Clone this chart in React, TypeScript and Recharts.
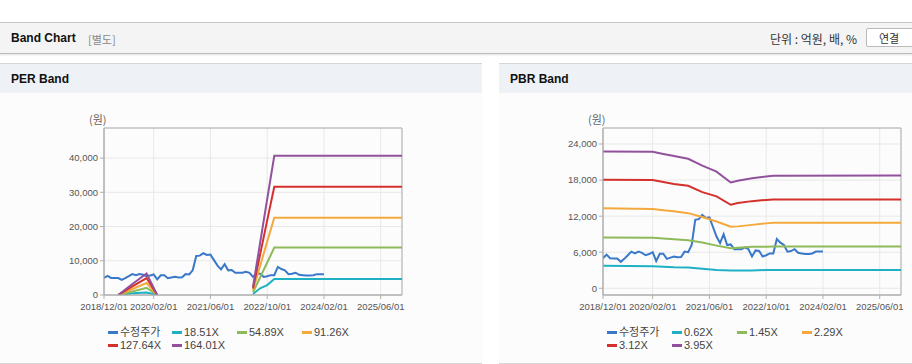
import { LineChart, Line, XAxis, YAxis, CartesianGrid, ReferenceArea } from 'recharts';

// x axis is months since 2018/12/01
const xTickMonths = [0, 14, 30, 46, 62, 78];
const xTickLabels = ['2018/12/01', '2020/02/01', '2021/06/01', '2022/10/01', '2024/02/01', '2025/06/01'];

// 수정주가, monthly from 2018/12
const price = [
  5000, 5600, 5000, 4950, 4950, 4400, 4900, 5500, 6100, 5800, 6100, 5900, 5500, 5700, 6000, 4550,
  5750, 5750, 4900, 5100, 5300, 5150, 5200, 6100, 6000, 7200, 11400, 11500, 12200, 11700, 11800, 10200,
  8600, 7500, 9000, 7200, 7300, 6500, 6500, 6500, 6800, 6500, 5300, 6300, 6200, 5300, 5500, 5800,
  5800, 8200, 7600, 7200, 6100, 6200, 6500, 5900, 5800, 5700, 5700, 5800, 6100, 6100, 6100,
];

// PER band breakpoints (null = no band)
const perMonths = [4, 8, 12, 15, 30, 42, 44, 46, 48, 84];
const per1851 = [0, 500, 750, 0, null, 300, 1950, 2900, 4650, 4680];
const per5489 = [0, 1050, 2100, 0, null, 800, 5100, 9500, 13850, 13850];
const per9126 = [0, 1750, 3500, 0, null, 1400, 8500, 15600, 22600, 22600];
const per12764 = [0, 2500, 4950, 0, null, 1900, 11800, 21800, 31650, 31650];
const per16401 = [0, 3200, 6300, 0, null, 2400, 15200, 28000, 40700, 40700];
const perLabels = ['18.51X', '54.89X', '91.26X', '127.64X', '164.01X'];
const perTicks = [0, 10000, 20000, 30000, 40000];

// PBR band breakpoints
const pbrMonths = [0, 14, 17, 20, 24, 28, 32, 36, 38, 42, 46, 48, 84];
const pbr062 = [3770, 3650, 3600, 3500, 3450, 3250, 3050, 2940, 2940, 2950, 3050, 3050, 3050];
const pbr145 = [8440, 8420, 8300, 8150, 8000, 7600, 7100, 6650, 6750, 6900, 6930, 6940, 6940];
const pbr229 = [13300, 13200, 13000, 12800, 12500, 11850, 11100, 10250, 10300, 10550, 10800, 10900, 10900];
const pbr312 = [18050, 18000, 17700, 17350, 17050, 16000, 15300, 13900, 14200, 14500, 14700, 14780, 14780];
const pbr395 = [22770, 22700, 22350, 22000, 21550, 20400, 19400, 17600, 17900, 18300, 18600, 18720, 18750];
const pbrLabels = ['0.62X', '1.45X', '2.29X', '3.12X', '3.95X'];
const pbrTicks = [0, 6000, 12000, 18000, 24000];

const PRICE_COLOR = '#3a78c9';
const BAND_COLORS = ['#1fb0c4', '#8fba5a', '#f3a93c', '#d4302c', '#92519d'];
const AXIS = '#b0b0b0';
const TICK_FONT = { fill: '#555', fontSize: 9.5, fontFamily: 'Liberation Sans, Arial' };

type BandProps = {
  left: number;
  width: number;
  marginRight: number;
  months: number[];
  bands: (number | null)[][];
  labels: string[];
  ticks: number[];
  domain: [number, number];
  title: string;
  panelWidth: number;
  legendX: number[];
};

function BandPanel({ left, width, marginRight, months, bands, labels, ticks, domain, title, panelWidth, legendX }: BandProps) {
  const priceData = price.map((v, i) => ({ m: i, v }));
  const legendItems = [{ name: '수정주가', color: PRICE_COLOR }, ...labels.map((l, i) => ({ name: l, color: BAND_COLORS[i] }))];
  return (
    <div style={{ position: 'absolute', left, top: 63, width: panelWidth, height: 299, borderTop: '1px solid #d6d6d6', borderBottom: '1px solid #d6d6d6', background: '#fcfcfc' }}>
      <div style={{ height: 29, background: '#eef2f7', fontFamily: 'Liberation Sans, Arial', fontWeight: 'bold', fontSize: 12, lineHeight: '30px', paddingLeft: 11, color: '#111' }}>
        {title}
      </div>
      <div style={{ position: 'absolute', left: 89, top: 47, fontSize: 11, color: '#666', fontFamily: 'Noto Sans CJK KR' }}>(원)</div>
      <div style={{ position: 'absolute', left: 0, top: 29 }}>
        <LineChart width={width} height={270} margin={{ top: 35, right: marginRight, left: 54, bottom: 48 }}>
          <CartesianGrid stroke="#e8e8e8" />
          <XAxis
            type="number"
            dataKey="m"
            domain={[0, 84]}
            ticks={xTickMonths}
            interval={0}
            allowDataOverflow
            tickFormatter={(v: number) => xTickLabels[xTickMonths.indexOf(v)]}
            tick={TICK_FONT}
            stroke={AXIS}
            tickSize={4}
            tickMargin={4}
            height={20}
          />
          <YAxis
            type="number"
            domain={domain}
            ticks={ticks}
            allowDataOverflow
            interval={0}
            tickFormatter={(v: number) => v.toLocaleString('en-US')}
            tick={TICK_FONT}
            stroke={AXIS}
            tickSize={4}
            width={50}
          />
          <ReferenceArea x1={0} x2={84} y1={domain[0]} y2={domain[1]} fill="none" stroke={AXIS} />
          <Line data={priceData} dataKey="v" stroke={PRICE_COLOR} strokeWidth={2} dot={false} isAnimationActive={false} type="linear" />
          {bands.map((vals, i) => (
            <Line
              key={labels[i]}
              data={months.map((m, j) => ({ m, v: vals[j] }))}
              dataKey="v"
              stroke={BAND_COLORS[i]}
              strokeWidth={2}
              dot={false}
              connectNulls={false}
              isAnimationActive={false}
              type="linear"
            />
          ))}
        </LineChart>
      </div>
      {legendItems.map((it, i) => (
        <div
          key={it.name}
          style={{
            position: 'absolute',
            left: legendX[i % 4] - left,
            top: 261 + Math.floor(i / 4) * 13,
            display: 'flex',
            alignItems: 'center',
            fontSize: 11,
            color: '#444',
            fontFamily: 'Liberation Sans, Arial, Noto Sans CJK KR',
            whiteSpace: 'nowrap',
            lineHeight: '14px',
          }}
        >
          <span style={{ display: 'inline-block', width: 10, height: 3, background: it.color, marginRight: 2 }} />
          {it.name}
        </div>
      ))}
    </div>
  );
}

export default function App() {
  return (
    <div style={{ position: 'absolute', left: 0, top: 0, width: 912, height: 364, overflow: 'hidden', background: '#fff', fontFamily: 'Liberation Sans, Arial' }}>
      <div
        style={{
          position: 'absolute', left: 0, top: 22, width: 912, height: 30,
          background: '#f4f4f4', borderTop: '1px solid #c8c8c8', borderBottom: '1px solid #bcbcbc',
          boxShadow: '0 1px 2px rgba(0,0,0,0.12)',
        }}
      >
        <span style={{ position: 'absolute', left: 11, top: 8, fontWeight: 'bold', fontSize: 12, color: '#111' }}>Band Chart</span>
        <span style={{ position: 'absolute', left: 88, top: 8, fontSize: 11, color: '#888', fontFamily: 'Noto Sans CJK KR' }}>[별도]</span>
        <span style={{ position: 'absolute', left: 770, top: 7, fontSize: 12, color: '#333', fontFamily: 'Noto Sans CJK KR' }}>단위 : 억원, 배, %</span>
        <div style={{ position: 'absolute', left: 866, top: 5, width: 52, height: 19, border: '1px solid #bbb', borderRadius: 2, background: '#fff', fontSize: 11, color: '#333', fontFamily: 'Noto Sans CJK KR', textAlign: 'center', lineHeight: '19px', boxSizing: 'border-box', paddingRight: 6 }}>연결</div>
      </div>
      <BandPanel
        left={0}
        panelWidth={482}
        width={420}
        marginRight={18}
        months={perMonths}
        bands={[per1851, per5489, per9126, per12764, per16401]}
        labels={perLabels}
        ticks={perTicks}
        domain={[0, 48800]}
        title="PER Band"
        legendX={[108, 172, 237, 302]}
      />
      <BandPanel
        left={499}
        panelWidth={413}
        width={413}
        marginRight={11}
        months={pbrMonths}
        bands={[pbr062, pbr145, pbr229, pbr312, pbr395]}
        labels={pbrLabels}
        ticks={pbrTicks}
        domain={[-1117, 26667]}
        title="PBR Band"
        legendX={[607, 672, 737, 802]}
      />
    </div>
  );
}
